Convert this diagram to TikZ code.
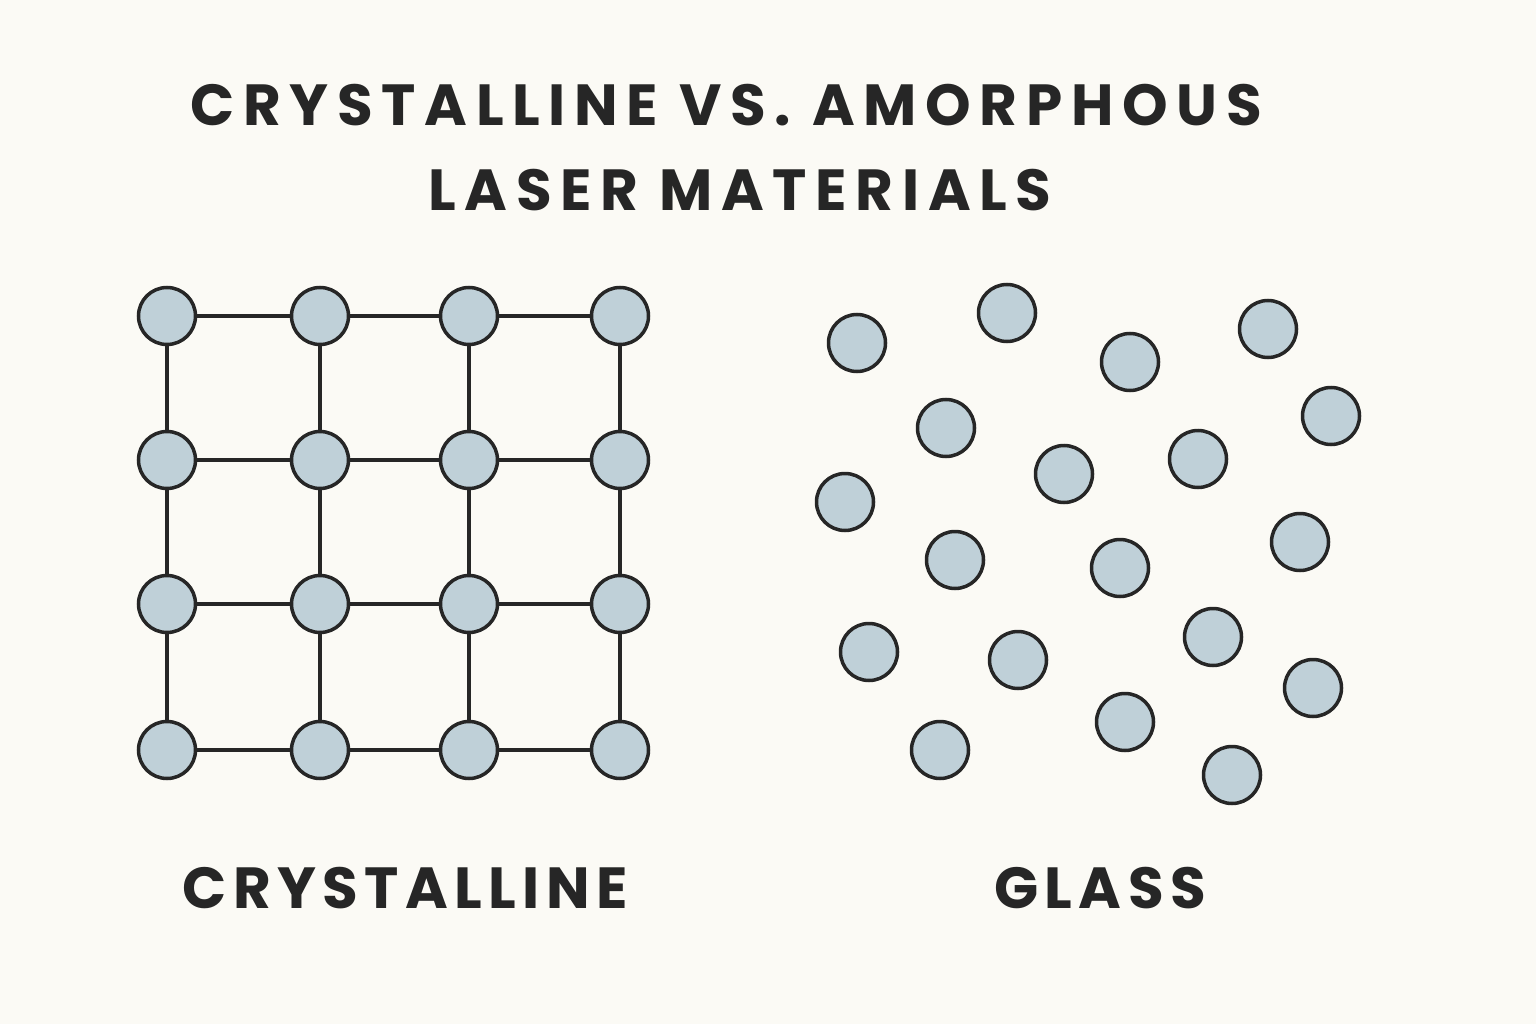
\documentclass[tikz,border=0pt]{standalone}
\usepackage{fontspec}
\setmainfont{Poppins}
\newfontfamily\ttlfont[LetterSpace=15]{Poppins}
\newfontfamily\lblfont[LetterSpace=11]{Poppins}
\begin{document}
\begin{tikzpicture}[x=1pt,y=-1pt,
  atom/.style={circle,draw=black!85,line width=3.5pt,fill=atomfill,minimum size=57pt,inner sep=0pt},
  bond/.style={draw=black!85,line width=3.5pt},
  ttl/.style={font=\ttlfont\fontsize{58}{60}\selectfont\bfseries,text=black!85},
  lbl/.style={font=\lblfont\fontsize{58}{60}\selectfont\bfseries,text=black!85}]
\definecolor{atomfill}{HTML}{BFD0D8}
\definecolor{bg}{HTML}{FBFAF5}
\fill[bg] (0,0) rectangle (1536,1024);
\useasboundingbox (0,0) rectangle (1536,1024);
\node[ttl] (t1) at (726,105) {CRYSTALLINE VS.\ AMORPHOUS};
\node[ttl] (t2) at (740,190) {LASER MATERIALS};
\foreach \i/\x in {1/167,2/320,3/469,4/620}{
  \foreach \j/\y in {1/316,2/460,3/604,4/750}{
    \coordinate (p\i\j) at (\x,\y);}}
\foreach \i in {1,...,4}{\foreach \j/\k in {1/2,2/3,3/4}{
  \draw[bond] (p\i\j) -- (p\i\k);
  \draw[bond] (p\j\i) -- (p\k\i);}}
\foreach \i in {1,...,4}{\foreach \j in {1,...,4}{
  \node[atom] (a\i\j) at (p\i\j) {};}}
\foreach \x/\y [count=\n] in {857/343,1007/313,1130/362,1268/329,946/428,1064/474,1198/459,1331/416,845/502,955/560,1120/568,1300/542,869/652,1018/660,1213/637,1313/688,940/750,1125/722,1232/775}{
  \node[atom] (g\n) at (\x,\y) {};}
\node[lbl] (l1) at (405,888) {CRYSTALLINE};
\node[lbl] (l2) at (1100,888) {GLASS};
\end{tikzpicture}
\end{document}
